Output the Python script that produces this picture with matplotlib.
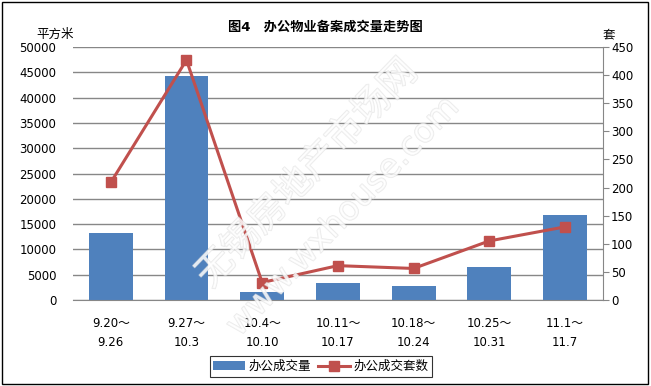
import matplotlib
matplotlib.use("Agg")
import matplotlib.pyplot as plt
import matplotlib.patheffects as pe
from matplotlib.patches import Rectangle
import numpy as np

plt.rcParams['font.family'] = ['DejaVu Sans', 'Noto Sans CJK SC']

# data
weeks = ["9.20～\n9.26", "9.27～\n10.3", "10.4～\n10.10", "10.11～\n10.17",
         "10.18～\n10.24", "10.25～\n10.31", "11.1～\n11.7"]
area = [13300, 44300, 1600, 3400, 2800, 6600, 16700]   # 平方米
units = [209, 427, 31, 61, 56, 105, 130]               # 套

BAR_COLOR = '#4f81bd'
LINE_COLOR = '#c0504d'
GRID_COLOR = '#878787'

fig = plt.figure(figsize=(6.51, 3.86), dpi=100)
ax = fig.add_axes([0.112, 0.223, 0.814, 0.655])
ax2 = ax.twinx()

x = np.arange(len(weeks))
ax.bar(x, area, width=0.58, color=BAR_COLOR, zorder=2, label='办公成交量')
ax2.plot(x, units, color=LINE_COLOR, linewidth=2.2, marker='s', markersize=7,
         label='办公成交套数', zorder=3)

ax.set_xlim(-0.5, len(weeks) - 0.5)
ax.set_ylim(0, 50000)
ax.set_yticks(np.arange(0, 50001, 5000))
ax2.set_ylim(0, 450)
ax2.set_yticks(np.arange(0, 451, 50))

ax.yaxis.grid(True, color=GRID_COLOR, linewidth=1)
ax.set_axisbelow(True)
for s in ['top', 'left', 'right']:
    ax.spines[s].set_visible(False)
ax.spines['bottom'].set_color(GRID_COLOR)
for s in ['top', 'left', 'bottom']:
    ax2.spines[s].set_visible(False)
ax2.spines['right'].set_color(GRID_COLOR)

ax.set_xticks(x)
ax.set_xticklabels(weeks, fontsize=8.5, linespacing=1.6)
ax.tick_params(axis='x', length=0, pad=12)
ax.tick_params(axis='y', length=0, labelsize=8.5, pad=12)
ax2.tick_params(axis='y', length=4, color=GRID_COLOR, labelsize=8.5, pad=2)

ax.set_zorder(ax2.get_zorder() - 1)
ax2.patch.set_visible(False)

fig.text(0.5, 0.93, '图4　办公物业备案成交量走势图', ha='center', va='center',
         fontsize=9.5, fontweight='bold', family=['DejaVu Sans', 'Noto Sans CJK SC'])
fig.text(0.085, 0.912, '平方米', ha='center', va='center', fontsize=9,
         family='Noto Sans CJK SC')
fig.text(0.935, 0.91, '套', ha='center', va='center', fontsize=9,
         family='Noto Sans CJK SC')

h1, l1 = ax.get_legend_handles_labels()
h2, l2 = ax2.get_legend_handles_labels()
leg = fig.legend(h1 + h2, l1 + l2, loc='center', bbox_to_anchor=(0.493, 0.05),
                 ncol=2, frameon=True, fancybox=False,
                 handlelength=2.5, handletextpad=0.3, columnspacing=0.6,
                 borderpad=0.3, prop={'family': ['Noto Sans CJK SC'], 'size': 9})
leg.get_frame().set_edgecolor('black')
leg.get_frame().set_linewidth(0.8)

# watermark (hollow light text)
wm = [pe.Stroke(linewidth=1.0, foreground='#dcdcdc'), pe.Normal()]
fig.text(0.472, 0.55, '无锡房地产市场网', rotation=46, ha='center', va='center',
         fontsize=27, color='white', alpha=0.6, zorder=10, fontweight='light',
         family='Noto Sans CJK SC', path_effects=wm)
fig.text(0.527, 0.44, 'www.wxhouse.com', rotation=46, ha='center', va='center',
         fontsize=24, color='white', alpha=0.6, zorder=10, path_effects=wm)

fig.patches.append(Rectangle((0.003, 0.004), 0.992, 0.992, transform=fig.transFigure,
                             fill=False, edgecolor='black', linewidth=1))

fig.savefig('out.png', dpi=100)
